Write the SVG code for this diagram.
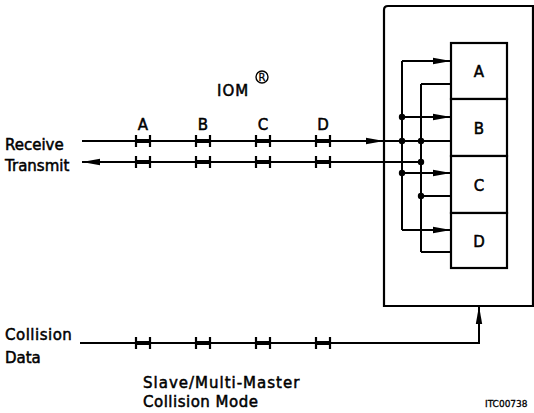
<svg xmlns="http://www.w3.org/2000/svg" width="534" height="413" viewBox="0 0 534 413">
<defs>
<style>
.ln{stroke:#000;stroke-width:2;fill:none}
.bx{stroke:#000;stroke-width:2.2;fill:#fff}
.tk{stroke:#000;stroke-width:2.2;fill:none}
.tkb{stroke:#000;stroke-width:4;fill:none}
.t{font-family:"DejaVu Sans","Liberation Sans",sans-serif;font-size:15px;fill:#000;stroke:#000;stroke-width:0.5}
.c{text-anchor:middle}
.s{font-family:"DejaVu Sans","Liberation Sans",sans-serif;font-size:9px;fill:#000;stroke:#000;stroke-width:0.3}
</style>
<marker id="ah" viewBox="0 0 18 8" refX="18" refY="4" markerWidth="18" markerHeight="8" markerUnits="userSpaceOnUse" orient="auto">
<path d="M0,0.8 L18,4 L0,7.2 Z" fill="#000"/>
</marker>
<g id="tick">
<line class="tk" x1="-7" y1="-6" x2="-7" y2="6"/>
<line class="tk" x1="7" y1="-6" x2="7" y2="6"/>
<line class="tkb" x1="-7" y1="0" x2="7" y2="0"/>
</g>
</defs>
<rect width="534" height="413" fill="#fff"/>

<g id="device">
<path class="bx" d="M384,306 L384,10 Q384,6 388,6 L533,6 L533,306 Z"/>
</g>
<g id="boxA"><rect class="bx" x="451" y="43" width="56" height="56"/><text class="t c" x="479" y="77">A</text></g>
<g id="boxB"><rect class="bx" x="451" y="99" width="56" height="57"/><text class="t c" x="479" y="134">B</text></g>
<g id="boxC"><rect class="bx" x="451" y="156" width="56" height="57"/><text class="t c" x="479" y="191">C</text></g>
<g id="boxD"><rect class="bx" x="451" y="213" width="56" height="55"/><text class="t c" x="479" y="247">D</text></g>

<g id="connectors">
<line class="ln" x1="82" y1="141" x2="384" y2="141" marker-end="url(#ah)"/>
<line class="ln" x1="384" y1="141" x2="451" y2="141"/>
<line class="ln" x1="421" y1="162" x2="82" y2="162" marker-end="url(#ah)"/>
<line class="ln" x1="402" y1="61" x2="402" y2="230"/>
<line class="ln" x1="402" y1="61" x2="451" y2="61" marker-end="url(#ah)"/>
<line class="ln" x1="402" y1="117" x2="451" y2="117" marker-end="url(#ah)"/>
<line class="ln" x1="402" y1="173" x2="451" y2="173" marker-end="url(#ah)"/>
<line class="ln" x1="402" y1="230" x2="451" y2="230" marker-end="url(#ah)"/>
<line class="ln" x1="421" y1="84" x2="421" y2="252"/>
<line class="ln" x1="421" y1="84" x2="451" y2="84"/>
<line class="ln" x1="421" y1="196" x2="451" y2="196"/>
<line class="ln" x1="421" y1="252" x2="451" y2="252"/>
<circle cx="402" cy="117" r="3.2"/>
<circle cx="402" cy="141" r="3.2"/>
<circle cx="402" cy="173" r="3.2"/>
<circle cx="421" cy="141" r="3.2"/>
<circle cx="421" cy="162" r="3.2"/>
<circle cx="421" cy="196" r="3.2"/>
<path class="ln" d="M80,343 L479,343 L479,306" marker-end="url(#ah)"/>
<use href="#tick" x="143" y="141"/><use href="#tick" x="203" y="141"/><use href="#tick" x="263" y="141"/><use href="#tick" x="323" y="141"/>
<use href="#tick" x="143" y="162"/><use href="#tick" x="203" y="162"/><use href="#tick" x="263" y="162"/><use href="#tick" x="323" y="162"/>
<use href="#tick" x="143" y="343"/><use href="#tick" x="203" y="343"/><use href="#tick" x="263" y="343"/><use href="#tick" x="323" y="343"/>
</g>

<g id="labels">
<text class="t c" x="143" y="130">A</text>
<text class="t c" x="203" y="130">B</text>
<text class="t c" x="263" y="130">C</text>
<text class="t c" x="323" y="130">D</text>
<text class="t" x="217" y="96" letter-spacing="1">IOM</text>
<circle cx="262" cy="77" r="6" fill="none" stroke="#000" stroke-width="1.4"/>
<text x="262" y="81" text-anchor="middle" style="font-family:'DejaVu Sans',sans-serif;font-size:10px;stroke:#000;stroke-width:0.3">R</text>
<text class="t" x="5" y="150">Receive</text>
<text class="t" x="5" y="171">Transmit</text>
<text class="t" x="5" y="340" letter-spacing="0.5">Collision</text>
<text class="t" x="5" y="363">Data</text>
<text class="t" x="143" y="388" letter-spacing="1">Slave/Multi-Master</text>
<text class="t" x="143" y="407" letter-spacing="0.5">Collision Mode</text>
<text class="s" x="485" y="407">ITC00738</text>
</g>
</svg>
